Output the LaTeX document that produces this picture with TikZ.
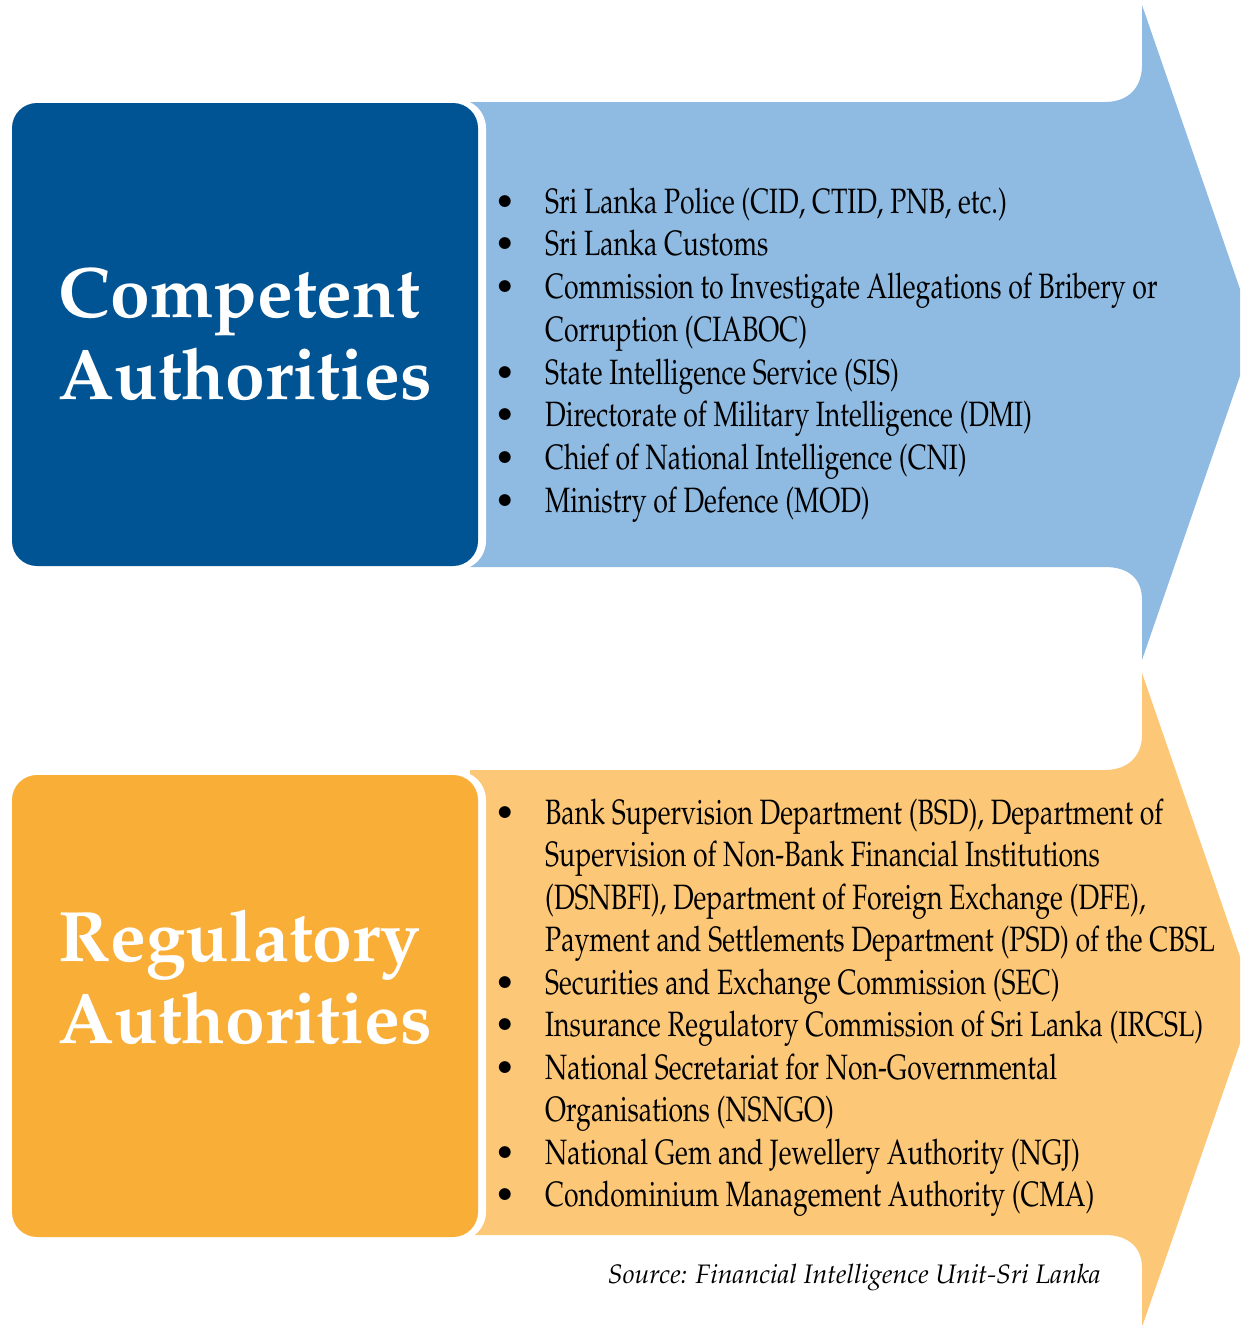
\documentclass[tikz,border=0pt]{standalone}
\usepackage[T1]{fontenc}
\usepackage{mathpazo}
\usepackage{graphicx}
\definecolor{cdarkblue}{RGB}{0,84,148}
\definecolor{clightblue}{RGB}{143,186,226}
\definecolor{corange}{RGB}{249,174,56}
\definecolor{clightorange}{RGB}{253,199,120}
\newcommand\sqz[1]{\scalebox{0.757}[1]{#1}}
\begin{document}
\begin{tikzpicture}[x=1pt,y=-1pt,
  headtxt/.style={anchor=base west,inner sep=0pt,text=white,font=\fontsize{71.5}{80}\selectfont\bfseries},
  itemtxt/.style={anchor=base west,inner sep=0pt,text=black,font=\fontsize{35.2}{40}\selectfont},
  bul/.style={anchor=base,inner sep=0pt,text=black,font=\fontsize{34.7}{40}\selectfont},
  boxrim/.style={fill=white,rounded corners=29pt},
  boxfill/.style={rounded corners=25pt}]
\useasboundingbox (0,0) rectangle (1240,1325);
\clip (0,0) rectangle (1240,1325);
% blue arrow
\fill[clightblue] (470,102) -- (1105,102) .. controls (1128,102) and (1142,88) .. (1142,65)
  -- (1142,5) -- (1255,332.5) -- (1142,660) -- (1142,600)
  .. controls (1142,578) and (1128,567) .. (1105,567) -- (470,567) -- cycle;
% orange arrow
\fill[clightorange] (470,770) -- (1105,770) .. controls (1128,770) and (1142,756) .. (1142,735)
  -- (1142,673) -- (1255,1000) -- (1142,1327) -- (1142,1268)
  .. controls (1142,1247) and (1128,1235) .. (1105,1235) -- (470,1235) -- cycle;
% boxes
\fill[boxrim] (8,99) rectangle (486,570);
\fill[boxfill,cdarkblue] (12,103) rectangle (478,566);
\fill[boxrim] (8,771) rectangle (486,1241);
\fill[boxfill,corange] (12,775) rectangle (478,1237);
% headings
\node[headtxt] (ca1) at (58.5,317) {Competent};
\node[headtxt] (ca2) at (58.5,399) {Authorities};
\node[headtxt] (ra1) at (58.5,961) {Regulatory};
\node[headtxt] (ra2) at (58.5,1043) {Authorities};
% competent items
\node[bul] (cb1) at (505,213) {\textbullet};
\node[itemtxt] (ci1) at (545,213) {\sqz{Sri Lanka Police (CID, CTID, PNB, etc.)}};
\node[bul] (cb2) at (505,255.5) {\textbullet};
\node[itemtxt] (ci2) at (545,255.5) {\sqz{Sri Lanka Customs}};
\node[bul] (cb3) at (505,298.5) {\textbullet};
\node[itemtxt] (ci3) at (545,298.5) {\sqz{Commission to Investigate Allegations of Bribery or}};
\node[itemtxt] (ci3b) at (545,341) {\sqz{Corruption (CIABOC)}};
\node[bul] (cb4) at (505,384) {\textbullet};
\node[itemtxt] (ci4) at (545,384) {\sqz{State Intelligence Service (SIS)}};
\node[bul] (cb5) at (505,426.5) {\textbullet};
\node[itemtxt] (ci5) at (545,426.5) {\sqz{Directorate of Military Intelligence (DMI)}};
\node[bul] (cb6) at (505,469) {\textbullet};
\node[itemtxt] (ci6) at (545,469) {\sqz{Chief of National Intelligence (CNI)}};
\node[bul] (cb7) at (505,512) {\textbullet};
\node[itemtxt] (ci7) at (545,512) {\sqz{Ministry of Defence (MOD)}};
% regulatory items
\node[bul] (rb1) at (505,824) {\textbullet};
\node[itemtxt] (ri1) at (545,824) {\sqz{Bank Supervision Department (BSD), Department of}};
\node[itemtxt] (ri1b) at (545,866.5) {\sqz{Supervision of Non-Bank Financial Institutions}};
\node[itemtxt] (ri1c) at (545,909) {\sqz{(DSNBFI), Department of Foreign Exchange (DFE),}};
\node[itemtxt] (ri1d) at (545,951.5) {\sqz{Payment and Settlements Department (PSD) of the CBSL}};
\node[bul] (rb2) at (505,994) {\textbullet};
\node[itemtxt] (ri2) at (545,994) {\sqz{Securities and Exchange Commission (SEC)}};
\node[bul] (rb3) at (505,1036.5) {\textbullet};
\node[itemtxt] (ri3) at (545,1036.5) {\sqz{Insurance Regulatory Commission of Sri Lanka (IRCSL)}};
\node[bul] (rb4) at (505,1079) {\textbullet};
\node[itemtxt] (ri4) at (545,1079) {\sqz{National Secretariat for Non-Governmental}};
\node[itemtxt] (ri4b) at (545,1121.5) {\sqz{Organisations (NSNGO)}};
\node[bul] (rb5) at (505,1164) {\textbullet};
\node[itemtxt] (ri5) at (545,1164) {\sqz{National Gem and Jewellery Authority (NGJ)}};
\node[bul] (rb6) at (505,1206.5) {\textbullet};
\node[itemtxt] (ri6) at (545,1206.5) {\sqz{Condominium Management Authority (CMA)}};
% source
\node[anchor=base east,inner sep=0pt,font=\fontsize{26.7}{32}\selectfont\itshape] (src) at (1101,1283) {Source: Financial Intelligence Unit-Sri Lanka};
\end{tikzpicture}
\end{document}
